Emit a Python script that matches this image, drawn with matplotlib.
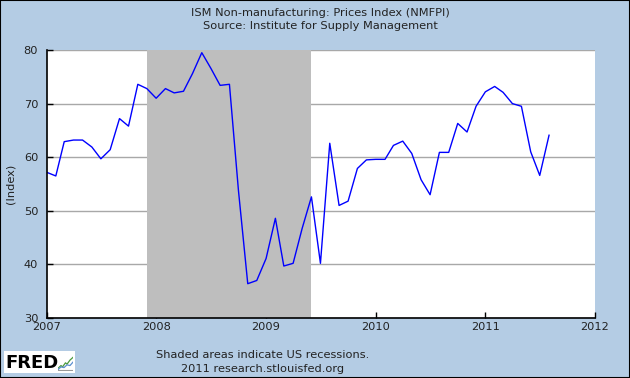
import numpy as np
import pandas as pd
import matplotlib
matplotlib.use("Agg")
import matplotlib.pyplot as plt
import matplotlib.dates as mdates
from matplotlib.patches import Rectangle

# ISM non-manufacturing prices index, monthly Jan 2007 - Aug 2011
dates = pd.date_range("2007-01-01", "2011-08-01", freq="MS")
prices = [57.2, 56.5, 62.9, 63.2, 63.2, 61.9, 59.7, 61.4, 67.2, 65.8, 73.6, 72.8,   # 2007
          71.0, 72.8, 72.0, 72.3, 75.6, 79.5, 76.6, 73.4, 73.6, 53.8, 36.4, 37.0,   # 2008
          41.1, 48.6, 39.7, 40.2, 46.7, 52.6, 40.2, 62.6, 51.0, 51.8, 57.9, 59.5,   # 2009
          59.6, 59.6, 62.2, 63.0, 60.7, 55.8, 53.0, 60.9, 60.9, 66.3, 64.7, 69.5,   # 2010
          72.2, 73.2, 72.1, 70.0, 69.5, 61.0, 56.6, 64.1]                            # 2011
recession_start = "2007-12-01"
recession_end = "2009-06-01"
year_ticks = [2007, 2008, 2009, 2010, 2011, 2012]
y_ticks = [30, 40, 50, 60, 70, 80]

bg = "#B4CCE4"
fs = 8.2

fig = plt.figure(figsize=(6.3, 3.78), dpi=100, facecolor=bg)
fig.patches.append(Rectangle((0, 0), 1, 1, transform=fig.transFigure, fill=False,
                             edgecolor="black", linewidth=1.5))

ax = fig.add_axes([46.5 / 630, 60 / 378, 548.5 / 630, 268 / 378])
ax.set_facecolor("white")

ax.axvspan(pd.Timestamp(recession_start), pd.Timestamp(recession_end),
           color="#BEBEBE", zorder=1, lw=0)
ax.plot(dates, prices, color="#0000FF", linewidth=1.0, zorder=3)

ax.set_xlim(pd.Timestamp("2007-01-01"), pd.Timestamp("2012-01-01"))
ax.set_ylim(30, 80)
ax.set_xticks([pd.Timestamp(f"{y}-01-01") for y in year_ticks])
ax.xaxis.set_major_formatter(mdates.DateFormatter("%Y"))
ax.set_yticks(y_ticks)

ax.grid(axis="y", color="#A8A8A8", linewidth=1.0, zorder=0)
ax.set_axisbelow(True)
for s in ["top", "right"]:
    ax.spines[s].set_visible(False)
for s in ["left", "bottom"]:
    ax.spines[s].set_color("black")
    ax.spines[s].set_linewidth(1.2)
    ax.spines[s].set_zorder(4)
ax.tick_params(axis="both", direction="in", length=4, width=1, color="black",
               labelsize=fs, labelcolor="#222222")
ax.tick_params(axis="y", pad=6)
ax.tick_params(axis="x", pad=3)

ax.set_ylabel("(Index)", fontsize=fs, color="#222222", labelpad=6)

fig.text(0.508, 1 - 13 / 378, "ISM Non-manufacturing: Prices Index (NMFPI)",
         ha="center", va="center", fontsize=fs, color="#222222")
fig.text(0.508, 1 - 26 / 378, "Source: Institute for Supply Management",
         ha="center", va="center", fontsize=fs, color="#222222")

fig.text(263 / 630, 1 - 355 / 378, "Shaded areas indicate US recessions.",
         ha="center", va="center", fontsize=fs, color="#222222")
fig.text(263 / 630, 1 - 369 / 378, "2011 research.stlouisfed.org",
         ha="center", va="center", fontsize=fs, color="#222222")

# FRED logo
fig.patches.append(Rectangle((4 / 630, 1 - 373 / 378), 71 / 630, 22 / 378,
                             transform=fig.transFigure, facecolor="white",
                             edgecolor="none", zorder=1))
fig.text(5 / 630, 1 - 362.5 / 378, "FRED", ha="left", va="center", fontsize=13,
         fontweight="heavy", color="black", family="DejaVu Sans", zorder=3)
logo = fig.add_axes([58 / 630, 1 - 371 / 378, 15 / 630, 15 / 378])
logo.set_zorder(3)
logo.set_axis_off()
logo.plot([0, 2, 3, 5, 6, 8, 10], [1, 3, 2, 5, 4, 7, 9], color="#4C9A3C", lw=0.9)
logo.plot([0, 2, 4, 6, 8, 10], [0, 2, 1.5, 3.5, 3, 5.5], color="#5B8FD0", lw=0.9)
logo.plot([0, 10], [-0.5, -0.5], color="#999999", lw=0.8)
logo.set_xlim(0, 10)
logo.set_ylim(-1, 10)

fig.savefig("out.png", dpi=100, facecolor=bg)
